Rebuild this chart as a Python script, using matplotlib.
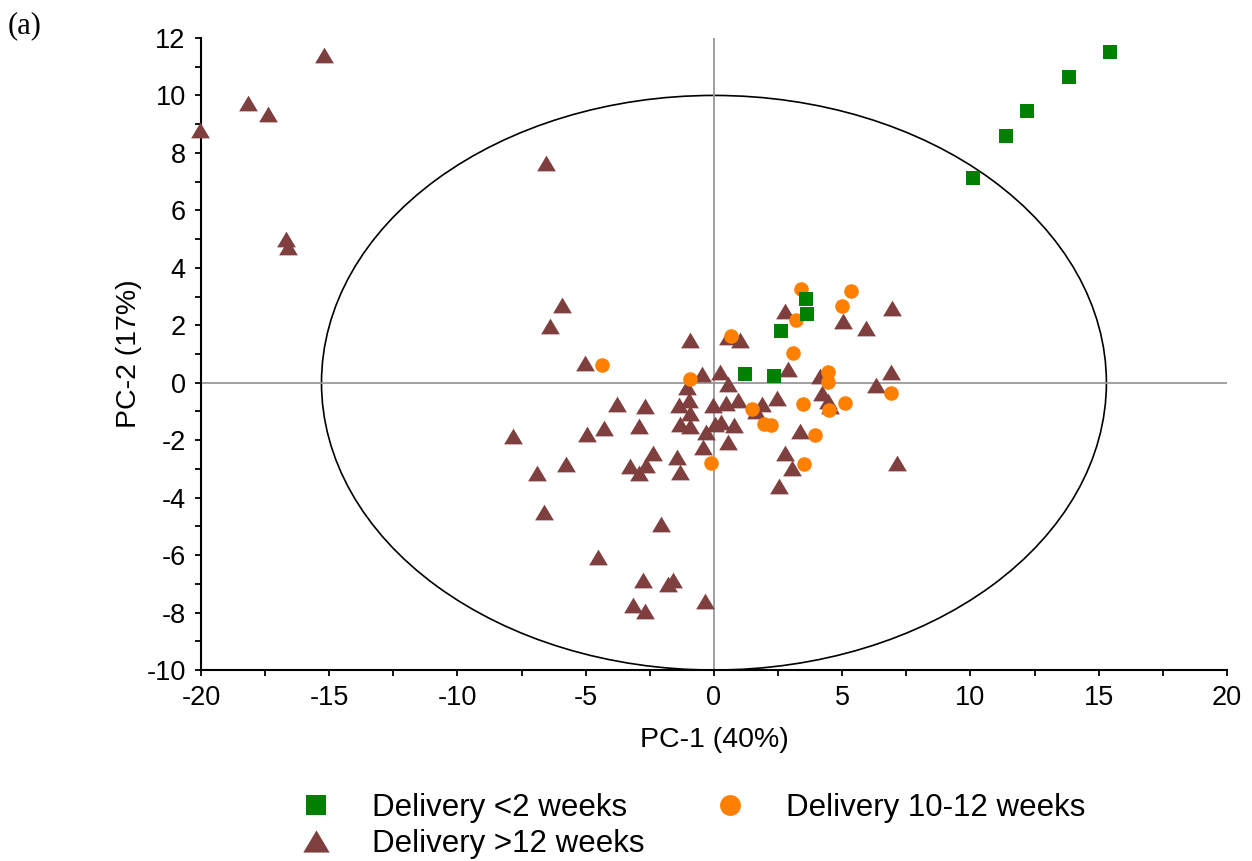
import numpy as np
import matplotlib
matplotlib.use("Agg")
import matplotlib.pyplot as plt
from matplotlib.patches import Ellipse
from matplotlib.lines import Line2D
from matplotlib.ticker import MultipleLocator

plt.rcParams["font.family"] = ["Liberation Sans", "DejaVu Sans"]
plt.rcParams["axes.unicode_minus"] = False

# PCA scores, one group per delivery time
fast_x = [15.44, 13.84, 12.19, 11.38, 10.08, 3.57, 3.64, 2.61, 1.21, 2.33]
fast_y = [11.52, 10.64, 9.47, 8.60, 7.12, 2.91, 2.40, 1.79, 0.30, 0.22]

mid_x = [3.40, 5.35, 5.00, 3.18, 3.07, 4.43, 4.43, 6.89, 5.12, 3.47,
         4.48, 1.48, 1.96, 2.22, 3.93, 3.52, 0.66, -0.94, -0.13, -4.35]
mid_y = [3.26, 3.21, 2.66, 2.19, 1.03, 0.37, 0.01, -0.35, -0.71, -0.75,
         -0.95, -0.92, -1.42, -1.47, -1.82, -2.84, 1.64, 0.13, -2.80, 0.62]

slow_x = [-20.04, -18.16, -17.40, -15.19, -16.69, -16.60, -6.56,
          -5.94, -6.39, -5.03, -7.82, -4.96, -4.29, -5.77, -6.91, -3.78,
          -2.69, -2.92, -3.27, -2.64, -2.91, -2.39, -1.43, -1.33,
          -6.63, -2.07, -4.51, -2.76, -1.61, -1.78, -3.16, -2.70, -0.35,
          -0.94, 0.56, 1.01, -0.46, 0.22, 0.56, -1.04,
          -1.36, -0.98, -0.94, -0.03, 0.47, 0.95,
          -1.34, -0.94, -0.30, 0.03, 0.26, 0.77, -0.42, 0.56,
          1.86, 1.63, 2.47, 2.77, 2.90, 4.13, 4.20, 4.45, 4.52,
          5.04, 5.91, 6.95, 6.89, 6.30, 3.37, 2.77, 3.03, 2.55, 7.12]
slow_y = [8.81, 9.74, 9.36, 11.42, 5.00, 4.71, 7.65,
          2.71, 1.99, 0.69, -1.87, -1.78, -1.57, -2.83, -3.14, -0.75,
          -0.81, -1.52, -2.89, -2.85, -3.14, -2.44, -2.59, -3.09,
          -4.50, -4.92, -6.05, -6.86, -6.86, -7.01, -7.73, -7.93, -7.58,
          1.50, 1.59, 1.48, 0.30, 0.37, -0.06, -0.14,
          -0.76, -0.61, -1.04, -0.78, -0.71, -0.60,
          -1.42, -1.52, -1.72, -1.45, -1.37, -1.48, -2.23, -2.08,
          -0.75, -0.97, -0.53, 2.50, 0.48, 0.23, -0.36, -0.62, -0.80,
          2.16, 1.90, 2.60, 0.37, -0.07, -1.68, -2.45, -2.97, -3.61, -2.80]

labels = ["Delivery <2 weeks", "Delivery >12 weeks", "Delivery 10-12 weeks"]

green = "#008000"
orange = "#ff8000"
brown = "#7f3f3f"
tri = [(0, 0.84), (-1, -0.84), (1, -0.84), (0, 0.84)]

fig = plt.figure(figsize=(12.52, 8.61), dpi=100)
ax = fig.add_axes([0.1605, 0.2218, 0.8195, 0.7341])

# confidence ellipse and zero lines
ax.add_patch(Ellipse((0, 0), 2 * 15.3, 20, fill=False, ec="black", lw=1.2, zorder=1))
ax.axhline(0, color="#999999", lw=1.3, zorder=1)
ax.axvline(0, color="#999999", lw=1.3, zorder=1)

ax.plot(slow_x, slow_y, ls="none", marker=tri, ms=13.5, color=brown, mew=0, zorder=3, clip_on=False)
ax.plot(mid_x, mid_y, ls="none", marker="o", ms=10.5, color=orange, mew=0, zorder=4, clip_on=False)
ax.plot(fast_x, fast_y, ls="none", marker="s", ms=10, color=green, mew=0, zorder=5, clip_on=False)

ax.set_xlim(-20, 20)
ax.set_ylim(-10, 12)
ax.xaxis.set_major_locator(MultipleLocator(5))
ax.xaxis.set_minor_locator(MultipleLocator(2.5))
ax.yaxis.set_major_locator(MultipleLocator(2))
ax.yaxis.set_minor_locator(MultipleLocator(1))
for s in ["top", "right"]:
    ax.spines[s].set_visible(False)
for s in ["left", "bottom"]:
    ax.spines[s].set_linewidth(1.5)
ax.tick_params(which="both", direction="out", length=4, width=1.3, labelsize=19.5, pad=7)

ax.set_xlabel("PC-1 (40%)", fontsize=20.5, labelpad=11)
ax.set_ylabel("PC-2 (17%)", fontsize=20.5, labelpad=3)

fig.text(0.006, 0.970, "(a)", fontsize=22, family=["Liberation Serif"], va="center")

handles = [
    Line2D([], [], ls="none", marker="s", ms=14, color=green, mew=0),
    Line2D([], [], ls="none", marker=tri, ms=19, color=brown, mew=0),
    Line2D([], [], ls="none", marker="o", ms=15, color=orange, mew=0),
]
fig.legend(handles, labels, ncol=2, loc="upper left", bbox_to_anchor=(0.240, 0.079),
           frameon=False, fontsize=22.5, handlelength=1.0, handletextpad=1.28,
           columnspacing=2.26, labelspacing=0.2, borderaxespad=0, borderpad=0)

fig.savefig("out.png", dpi=100)
